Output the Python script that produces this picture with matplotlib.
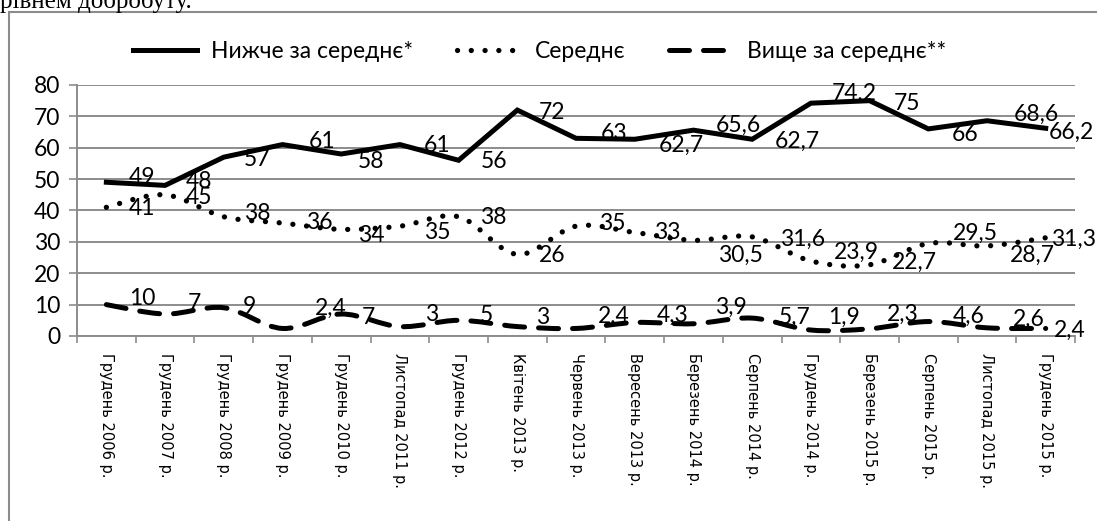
import numpy as np
import matplotlib.pyplot as plt
from matplotlib.path import Path
from matplotlib.patches import PathPatch, Rectangle
from matplotlib.lines import Line2D

# Data
periods = ["Грудень 2006 р.", "Грудень 2007 р.", "Грудень 2008 р.", "Грудень 2009 р.",
           "Грудень 2010 р.", "Листопад 2011 р.", "Грудень 2012 р.", "Квітень 2013 р.",
           "Червень 2013 р.", "Вересень 2013 р.", "Березень 2014 р.", "Серпень 2014 р.",
           "Грудень 2014 р.", "Березень 2015 р.", "Серпень 2015 р.", "Листопад 2015 р.",
           "Грудень 2015 р."]
below_avg = [49, 48, 57, 61, 58, 61, 56, 72, 63, 62.7, 65.6, 62.7, 74.2, 75, 66, 68.6, 66.2]
average = [41, 45, 38, 36, 34, 35, 38, 26, 35, 33, 30.5, 31.6, 23.9, 22.7, 29.5, 28.7, 31.3]
above_avg = [10, 7, 9, 2.4, 7, 3, 5, 3, 2.4, 4.3, 3.9, 5.7, 1.9, 2.3, 4.6, 2.6, 2.4]
series_names = ["Нижче за середнє*", "Середнє", "Вище за середнє**"]

# label offsets in pixels (dx, dy) - labels sit to the right of the points
below_dx = [36, 34, 33, 40, 30, 37, 35, 35, 38, 47, 45, 45, 43, 37, 37, 49, 26]
below_dy = [5, 4, -2, 3, -7, -1, -1, -2, 5, -6, 5, -2, 10, -3, -6, 6, -4]
avg_dx = [36, 34, 33, 37, 30, 37, 35, 35, 36, 33, 47, 50, 46, 45, 47, 45, 28]
avg_dy = [-1, -3, 3, 1, -6, -6, -1, -1, 3, 0, -15, -3, 9, 2, 10, -9, -2]
above_dx = [36, 29, 26, 48, 27, 32, 28, 25, 38, 38, 37, 42, 33, 33, 40, 42, 24]
above_dy = [6, 11, 1, 20, -3, 12, 5, 9, 12, 7, 16, 1, 13, 14, 5, 8, -2]

LABEL_FONT = "Lato"
GRAY = "#8c8c8c"


def smooth_path(x, y):
    # Catmull-Rom style bezier, like Excel's smoothed lines
    pts = np.column_stack([x, y]).astype(float)
    n = len(pts)
    verts = [pts[0]]
    codes = [Path.MOVETO]
    for i in range(n - 1):
        p0 = pts[max(i - 1, 0)]
        p1 = pts[i]
        p2 = pts[i + 1]
        p3 = pts[min(i + 2, n - 1)]
        verts += [p1 + (p2 - p0) / 6, p2 - (p3 - p1) / 6, p2]
        codes += [Path.CURVE4] * 3
    return Path(verts, codes)


def fmt(v):
    return f"{v:g}".replace(".", ",")


fig = plt.figure(figsize=(10.97, 5.21), dpi=100)
ax = fig.add_axes([0.0702, 0.3551, 0.9098, 0.4818])

x = np.arange(len(periods))

dotted = (0, (0.01, 2.6))
dashed = (0, (4.0, 2.8))

ax.plot(x, below_avg, color="black", lw=3.6, solid_joinstyle="miter", zorder=4)
ax.add_patch(PathPatch(smooth_path(x, average), fill=False, color="black", lw=3.8,
                       linestyle=dotted, capstyle="round", zorder=4))
ax.add_patch(PathPatch(smooth_path(x, above_avg), fill=False, color="black", lw=3.6,
                       linestyle=dashed, capstyle="round", zorder=4))

for vals, dxs, dys in [(below_avg, below_dx, below_dy),
                       (average, avg_dx, avg_dy),
                       (above_avg, above_dx, above_dy)]:
    for i, v in enumerate(vals):
        ax.annotate(fmt(v), (x[i], v), xytext=(dxs[i], dys[i]), textcoords="offset pixels",
                    ha="center", va="center", fontsize=16.5, family=LABEL_FONT,
                    color="black", zorder=5, annotation_clip=False)

ax.set_xlim(-0.5, len(periods) - 0.5)
ax.set_ylim(0, 80)
ax.set_yticks(range(0, 81, 10))
ax.yaxis.grid(True, color=GRAY, lw=1.4)
ax.set_axisbelow(True)

ax.set_xticks(x)
ax.set_xticklabels(periods, rotation=270, fontsize=10.5, family="DejaVu Sans")
ax.set_xticks(np.arange(-0.5, len(periods)), minor=True)
ax.tick_params(axis="x", which="major", length=0, pad=12)
ax.tick_params(axis="x", which="minor", length=5, color=GRAY, width=1.2)
ax.tick_params(axis="y", length=6, color=GRAY, width=1.2, pad=6)
for lab in ax.get_yticklabels():
    lab.set_fontsize(16.5)
    lab.set_family(LABEL_FONT)

for side in ["top", "right"]:
    ax.spines[side].set_visible(False)
for side in ["left", "bottom"]:
    ax.spines[side].set_color(GRAY)
    ax.spines[side].set_linewidth(1.4)

handles = [Line2D([], [], color="black", lw=3.6),
           Line2D([], [], color="black", lw=3.8, linestyle=dotted, dash_capstyle="round"),
           Line2D([], [], color="black", lw=3.6, linestyle=dashed, dash_capstyle="round")]
fig.legend(handles, series_names, loc="center", bbox_to_anchor=(0.492, 0.902), ncol=3,
           frameon=False, handlelength=2.8, handletextpad=0.6, columnspacing=1.9,
           prop={"family": LABEL_FONT, "size": 16.5})

# chart frame and the cut-off document line above it
fig.patches.append(Rectangle((9 / 1097, -0.1), 1.2, 1.1 - 12 / 521, transform=fig.transFigure,
                             fill=False, edgecolor=GRAY, lw=1.5))
fig.text(0.0, 1 - 8 / 521, "рівнем добробуту.", family="Liberation Serif", fontsize=18,
         ha="left", va="baseline")

fig.savefig("out.png", dpi=100)
